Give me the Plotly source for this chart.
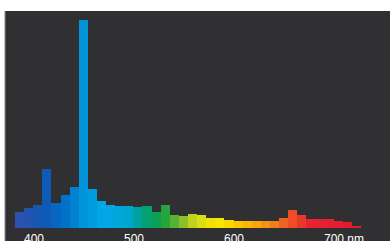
import plotly.graph_objects as go

# Wavelength bin centres (nm) and relative intensity
wavelengths = [385.6, 394.7, 403.8, 412.9, 422.0, 431.1, 440.2, 449.3, 458.4, 467.5,
               476.6, 485.7, 494.8, 503.9, 513.0, 522.1, 531.2, 540.3, 549.4, 558.5,
               567.7, 576.8, 585.9, 595.0, 604.1, 613.2, 622.3, 631.4, 640.5, 649.6,
               658.7, 667.8, 676.9, 686.0, 695.1, 704.2, 713.3, 722.4]
intensity = [17, 21, 24, 61, 26, 34, 43, 216, 40, 28,
             24, 23, 23, 22, 23, 17, 24, 13, 12, 14.5,
             13, 10, 10, 8.7, 7.7, 7.7, 7.7, 7.7, 7.7, 10,
             18.5, 14, 9.5, 9.5, 9, 7.7, 6, 2]
bin_width = 9.1

tick_values = [400, 500, 600, 700]
tick_labels = ["400", "500", "600", "\u00a0" * 6 + "700 nm"]

# spectrum colour stops (wavelength nm, colour)
spectrum_stops = [(381, "#3450b0"), (410, "#1058b4"), (430, "#0070c8"), (450, "#0094da"),
                  (470, "#00a8e8"), (495, "#00a6d0"), (510, "#00a07a"), (528, "#12a040"),
                  (545, "#70b830"), (558, "#c0d020"), (570, "#e4e010"), (585, "#f8e600"),
                  (605, "#f8c800"), (625, "#f8a010"), (645, "#f07020"), (660, "#ee4a26"),
                  (676, "#e82430"), (727, "#e01830")]
wl_min, wl_max = spectrum_stops[0][0], spectrum_stops[-1][0]
colorscale = [[(w - wl_min) / (wl_max - wl_min), c] for w, c in spectrum_stops]

dark = "#303032"

fig = go.Figure()
fig.add_trace(go.Bar(
    x=wavelengths, y=intensity, width=bin_width,
    marker=dict(color=wavelengths, colorscale=colorscale, cmin=wl_min, cmax=wl_max,
                line=dict(width=0)),
    showlegend=False, hoverinfo="skip",
))

fig.update_layout(
    width=390, height=246,
    margin=dict(l=5, r=0, t=11, b=10),
    paper_bgcolor="white",
    plot_bgcolor=dark,
    bargap=0,
    xaxis=dict(range=[371, 756], tickvals=tick_values, ticktext=tick_labels,
               showgrid=False, zeroline=False, showline=False, ticks="",
               ticklabelstandoff=2,
               tickfont=dict(family="Liberation Sans, Arial, sans-serif", size=12,
                             color="white")),
    yaxis=dict(range=[0, 225], visible=False, showgrid=False, zeroline=False),
    shapes=[
        dict(type="rect", xref="paper", yref="paper", x0=0, x1=1, y0=-0.06, y1=1,
             fillcolor=dark, line=dict(width=0), layer="below"),
        dict(type="line", xref="paper", yref="paper", x0=0, x1=0, y0=-0.06, y1=1,
             line=dict(color="#8a8a8a", width=1), layer="below"),
    ],
)

fig.write_html(
    "out.html",
    config={"displayModeBar": False},
    post_script="document.body.style.margin='0';document.body.style.overflow='hidden';"
                "document.documentElement.style.overflow='hidden';",
)
